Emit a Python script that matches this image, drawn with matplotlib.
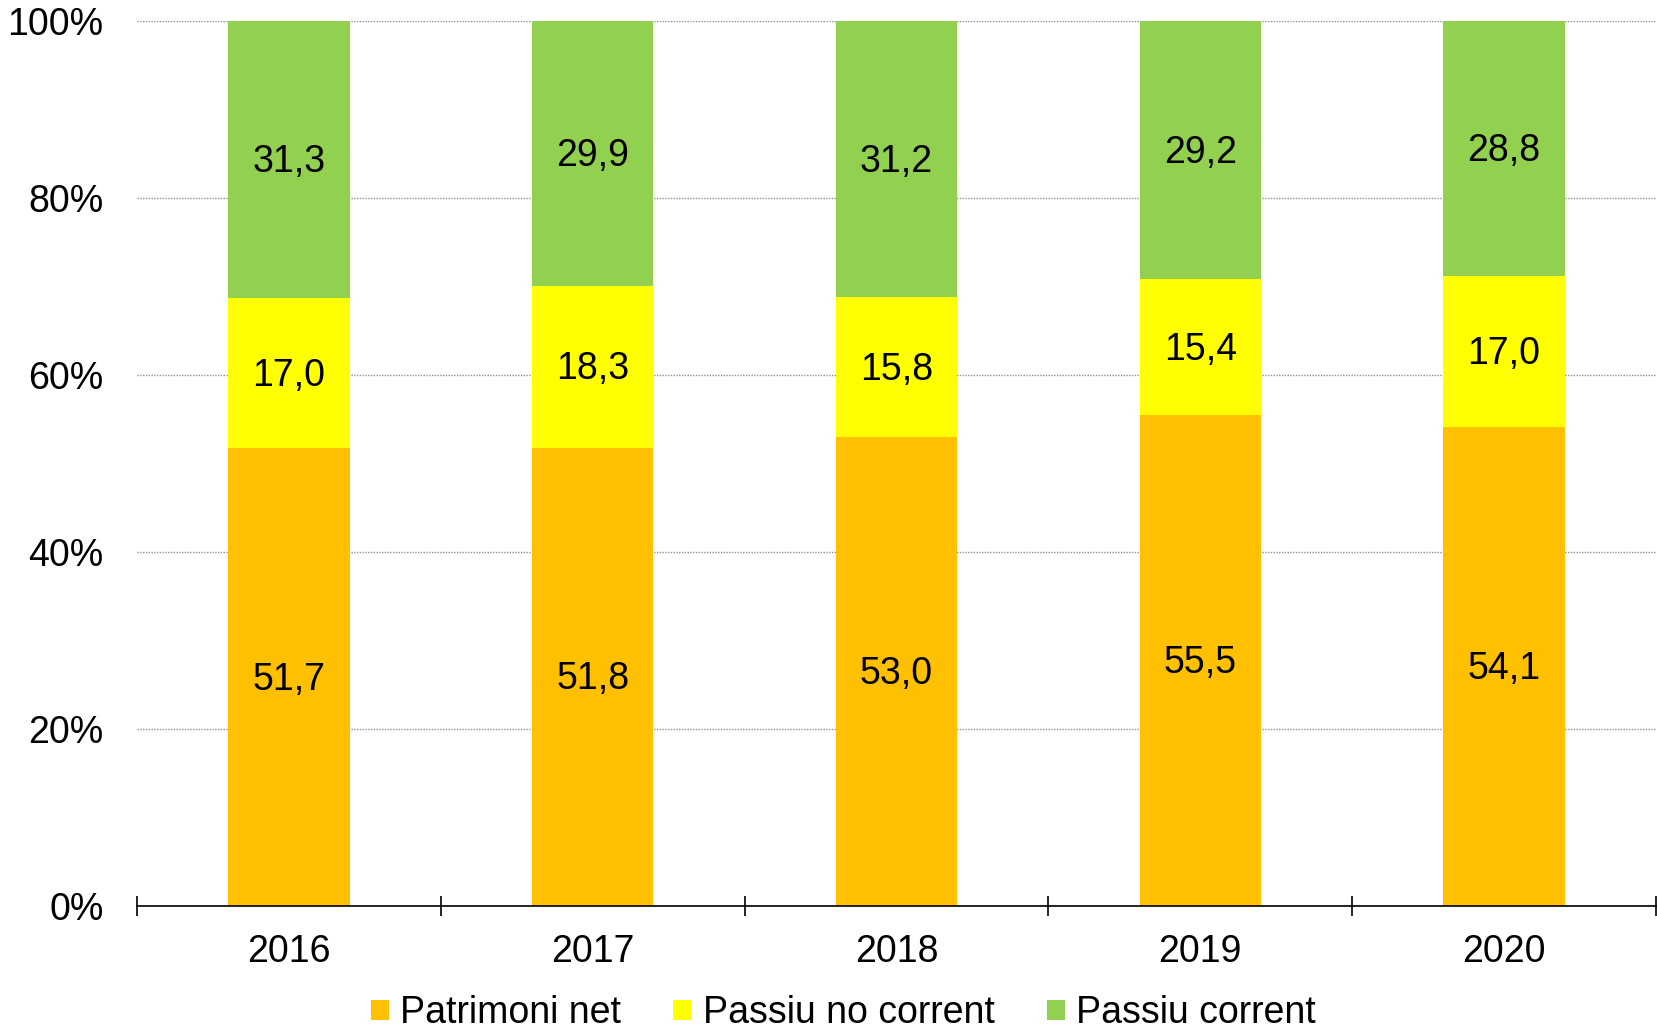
import matplotlib
matplotlib.use("Agg")
import matplotlib.pyplot as plt
from matplotlib.ticker import FixedLocator, FuncFormatter
import numpy as np

plt.rcParams['font.family'] = ['Liberation Sans', 'DejaVu Sans']

years = ["2016", "2017", "2018", "2019", "2020"]
series_names = ["Patrimoni net", "Passiu no corrent", "Passiu corrent"]
patrimoni = [51.7, 51.8, 53.0, 55.5, 54.1]
passiu_nc = [17.0, 18.3, 15.8, 15.4, 17.0]
passiu_c = [31.3, 29.9, 31.2, 29.2, 28.8]
colors = ["#FFC000", "#FFFF00", "#92D050"]

data = np.array([patrimoni, passiu_nc, passiu_c])
totals = data.sum(axis=0)
pct = data / totals * 100

fig = plt.figure(figsize=(16.57, 10.32), dpi=100)
ax = fig.add_axes([137/1657, 1 - 906/1032, (1656-137)/1657, (906-21)/1032])

x = np.arange(len(years))
bottom = np.zeros(len(years))
for i, name in enumerate(series_names):
    ax.bar(x, pct[i], bottom=bottom, width=0.4, color=colors[i], label=name, zorder=2)
    for j in range(len(years)):
        ax.text(x[j], bottom[j] + pct[i][j] / 2 - 0.3, f"{data[i][j]:.1f}".replace(".", ","),
                ha="center", va="center", fontsize=27, color="black", zorder=3)
    bottom += pct[i]

ax.set_xlim(-0.5, len(years) - 0.5)
ax.set_ylim(0, 100)
ax.set_yticks([0, 20, 40, 60, 80, 100])
ax.yaxis.set_major_formatter(FuncFormatter(lambda v, p: f"{int(v)}%"))
ax.grid(axis="y", linestyle=(0, (1, 1)), color="#909090", linewidth=1, zorder=0)
ax.set_axisbelow(True)

ax.set_xticks(x)
ax.set_xticklabels(years)
ax.xaxis.set_minor_locator(FixedLocator(np.arange(-0.5, len(years), 1.0)))
ax.tick_params(axis="x", which="major", length=0, pad=20, labelsize=27)
ax.tick_params(axis="x", which="minor", length=15, direction="inout", width=1.2, color="black")
ax.tick_params(axis="y", length=0, pad=24, labelsize=27)

for s in ["top", "right", "left"]:
    ax.spines[s].set_visible(False)
ax.spines["bottom"].set_linewidth(1.2)

ax.legend(loc="upper center", bbox_to_anchor=(0.465, -0.084), ncol=3, frameon=False,
          fontsize=27, handlelength=0.48, handleheight=0.48, handletextpad=0.3,
          columnspacing=1.4, borderaxespad=0)

fig.savefig("out.png", dpi=100)
